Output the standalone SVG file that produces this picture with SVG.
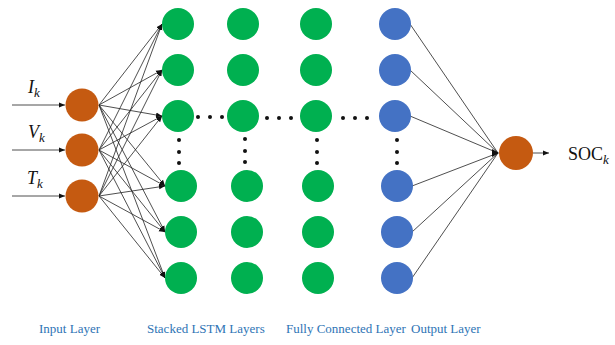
<svg xmlns="http://www.w3.org/2000/svg" width="615" height="345" viewBox="0 0 615 345">
<defs>
<marker id="ah" viewBox="0 0 10 10" refX="10" refY="5" markerWidth="6" markerHeight="6" markerUnits="userSpaceOnUse" orient="auto"><path d="M0,1 L10,5 L0,9 z" fill="#111"/></marker>
<style>
.or{fill:#c55a11}
.gr{fill:#00b050}
.bl{fill:#4472c4}
.ln{stroke:#222;stroke-width:0.8;fill:none}
.ar{stroke:#222;stroke-width:0.8;fill:none;marker-end:url(#ah)}
.dot{fill:#111}
.lab{font-family:"Liberation Serif",serif;font-size:13px;fill:#2e74b5}
.math{font-family:"Liberation Serif",serif;font-size:18px;fill:#111}
</style>
</defs>
<rect width="615" height="345" fill="#fff"/>
<g id="connectors">
<!-- inputs in -->
<line class="ar" x1="12" y1="105" x2="65" y2="105"/>
<line class="ar" x1="12" y1="150" x2="65" y2="150"/>
<line class="ar" x1="12" y1="196" x2="65" y2="196"/>
<!-- input to LSTM col1 -->
<g>
<line class="ar" x1="99" y1="105" x2="162" y2="24"/>
<line class="ar" x1="99" y1="105" x2="162" y2="70"/>
<line class="ar" x1="99" y1="105" x2="162" y2="116"/>
<line class="ar" x1="99" y1="105" x2="165" y2="186"/>
<line class="ar" x1="99" y1="105" x2="165" y2="232"/>
<line class="ar" x1="99" y1="105" x2="165" y2="278"/>
<line class="ar" x1="99" y1="150" x2="162" y2="24"/>
<line class="ar" x1="99" y1="150" x2="162" y2="70"/>
<line class="ar" x1="99" y1="150" x2="162" y2="116"/>
<line class="ar" x1="99" y1="150" x2="165" y2="186"/>
<line class="ar" x1="99" y1="150" x2="165" y2="232"/>
<line class="ar" x1="99" y1="150" x2="165" y2="278"/>
<line class="ar" x1="99" y1="196" x2="162" y2="24"/>
<line class="ar" x1="99" y1="196" x2="162" y2="70"/>
<line class="ar" x1="99" y1="196" x2="162" y2="116"/>
<line class="ar" x1="99" y1="196" x2="165" y2="186"/>
<line class="ar" x1="99" y1="196" x2="165" y2="232"/>
<line class="ar" x1="99" y1="196" x2="165" y2="278"/>
</g>
<!-- FC to output -->
<line class="ln" x1="410" y1="24" x2="498" y2="153"/>
<line class="ln" x1="410" y1="70" x2="498" y2="153"/>
<line class="ln" x1="410" y1="116" x2="498" y2="153"/>
<line class="ln" x1="412" y1="186" x2="498" y2="153"/>
<line class="ln" x1="412" y1="232" x2="498" y2="153"/>
<line class="ln" x1="412" y1="278" x2="498" y2="153"/>
<path d="M492,149 L499,153 L492,157 z" fill="#111"/>
<line class="ar" x1="533" y1="153" x2="549" y2="153"/>
</g>
<g id="input-layer">
<circle class="or" cx="82" cy="105" r="16.5"/>
<circle class="or" cx="82" cy="150" r="16.5"/>
<circle class="or" cx="82" cy="196" r="16.5"/>
<text class="math" x="28" y="93" font-style="italic">I<tspan font-size="13" dy="4">k</tspan></text>
<text class="math" x="28" y="138" font-style="italic">V<tspan font-size="13" dy="4">k</tspan></text>
<text class="math" x="27" y="184" font-style="italic">T<tspan font-size="13" dy="4">k</tspan></text>
</g>
<g id="lstm-layer-1">
<circle class="gr" cx="178" cy="24" r="16"/>
<circle class="gr" cx="178" cy="70" r="16"/>
<circle class="gr" cx="178" cy="116" r="16"/>
<circle class="gr" cx="181" cy="186" r="16"/>
<circle class="gr" cx="181" cy="232" r="16"/>
<circle class="gr" cx="181" cy="278" r="16"/>
</g>
<g id="lstm-layer-2">
<circle class="gr" cx="243" cy="24" r="16"/>
<circle class="gr" cx="243" cy="70" r="16"/>
<circle class="gr" cx="243" cy="116" r="16"/>
<circle class="gr" cx="247" cy="186" r="16"/>
<circle class="gr" cx="247" cy="232" r="16"/>
<circle class="gr" cx="247" cy="278" r="16"/>
</g>
<g id="lstm-layer-3">
<circle class="gr" cx="316" cy="24" r="16"/>
<circle class="gr" cx="316" cy="70" r="16"/>
<circle class="gr" cx="316" cy="116" r="16"/>
<circle class="gr" cx="318" cy="186" r="16"/>
<circle class="gr" cx="318" cy="232" r="16"/>
<circle class="gr" cx="318" cy="278" r="16"/>
</g>
<g id="fc-layer">
<circle class="bl" cx="395" cy="24" r="16"/>
<circle class="bl" cx="395" cy="70" r="16"/>
<circle class="bl" cx="395" cy="116" r="16"/>
<circle class="bl" cx="397" cy="186" r="16"/>
<circle class="bl" cx="397" cy="232" r="16"/>
<circle class="bl" cx="397" cy="278" r="16"/>
</g>
<g id="ellipses">
<circle class="dot" cx="198" cy="117" r="2"/><circle class="dot" cx="210" cy="117" r="2"/><circle class="dot" cx="222" cy="117" r="2"/>
<circle class="dot" cx="267" cy="118" r="2"/><circle class="dot" cx="279" cy="118" r="2"/><circle class="dot" cx="291" cy="118" r="2"/>
<circle class="dot" cx="343" cy="118" r="2"/><circle class="dot" cx="355" cy="118" r="2"/><circle class="dot" cx="367" cy="118" r="2"/>
<circle class="dot" cx="179" cy="140" r="2"/><circle class="dot" cx="179" cy="152" r="2"/><circle class="dot" cx="179" cy="163" r="2"/>
<circle class="dot" cx="245" cy="139" r="2"/><circle class="dot" cx="245" cy="151" r="2"/><circle class="dot" cx="245" cy="162" r="2"/>
<circle class="dot" cx="317" cy="140" r="2"/><circle class="dot" cx="317" cy="152" r="2"/><circle class="dot" cx="317" cy="163" r="2"/>
<circle class="dot" cx="397" cy="140" r="2"/><circle class="dot" cx="397" cy="152" r="2"/><circle class="dot" cx="397" cy="163" r="2"/>
</g>
<g id="output-layer">
<circle class="or" cx="516" cy="153" r="17"/>
<text class="math" x="568" y="160">SOC<tspan font-size="13" dy="4" font-style="italic">k</tspan></text>
</g>
<g id="labels">
<text class="lab" x="39" y="333">Input Layer</text>
<text class="lab" x="147" y="333">Stacked LSTM Layers</text>
<text class="lab" x="286" y="333">Fully Connected Layer</text>
<text class="lab" x="411" y="333">Output Layer</text>
</g>
</svg>
